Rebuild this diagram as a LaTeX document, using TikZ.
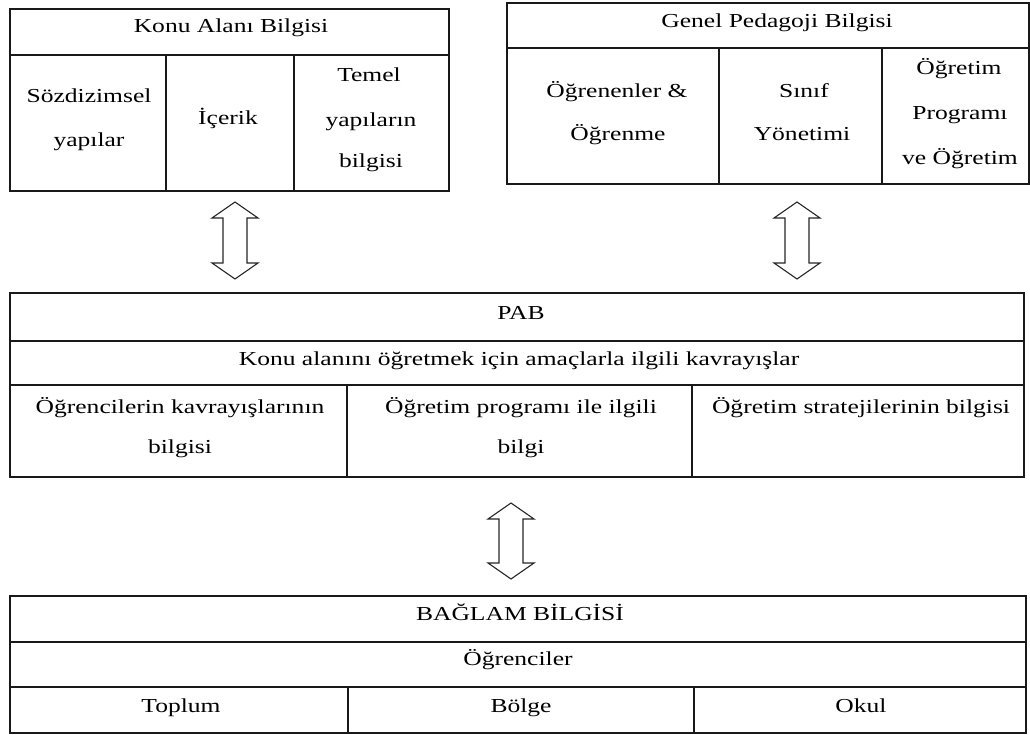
\documentclass[tikz,border=0pt]{standalone}
\usepackage{fontspec}
\setmainfont{Liberation Serif}
\usetikzlibrary{calc}

\tikzset{
  cellbox/.style={draw=black!90, line width=1.6pt, inner sep=0pt, outer sep=0pt, anchor=north west},
  txt/.style={anchor=base, inner sep=0pt, xscale=1.29, transform shape,
    font=\fontsize{19.8}{24}\selectfont, text=black},
  twoway/.style={draw=black!85, line width=1.1pt, fill=white, line join=miter},
}

% a table cell: name, left, top, right, bottom (pixel units, y downward)
\newcommand\cellat[5]{\node[cellbox, minimum width={#4-#2}, minimum height={#5-#3}] (#1) at (#2,#3) {};}

% hollow two-headed block arrow: name, centre x, top y, bottom y
\newcommand\twowayarrow[4]{%
  \coordinate (#1-top) at (#2,#3);
  \coordinate (#1-bot) at (#2,#4);
  \draw[twoway] (#1-top) -- ++(23,16) -- ++(-11,0) -- ($(#1-bot)+(12,-16)$)
    -- ++(11,0) -- (#1-bot) -- ++(-23,-16) -- ++(11,0) -- ($(#1-top)+(-12,16)$)
    -- ++(-11,0) -- cycle;}

\begin{document}
\begin{tikzpicture}[x=1pt, y=-1pt]
\useasboundingbox (0,0) rectangle (1030,735);

% Konu Alanı Bilgisi
\cellat{kab}{10}{9}{449}{55}
\cellat{kab1}{10}{55}{166}{191}
\cellat{kab2}{166}{55}{294}{191}
\cellat{kab3}{294}{55}{449}{191}
\node[txt] (t-kab) at (231,33) {Konu Alanı Bilgisi};
\node[txt] (t-kab1a) at (89,103) {Sözdizimsel};
\node[txt] (t-kab1b) at (89,147) {yapılar};
\node[txt] (t-kab2) at (228,125) {İçerik};
\node[txt] (t-kab3a) at (369,82) {Temel};
\node[txt] (t-kab3b) at (371,127) {yapıların};
\node[txt] (t-kab3c) at (371,168) {bilgisi};

% Genel Pedagoji Bilgisi
\cellat{gpb}{507}{3}{1029}{48}
\cellat{gpb1}{507}{48}{719}{184}
\cellat{gpb2}{719}{48}{882}{184}
\cellat{gpb3}{882}{48}{1029}{184}
\node[txt] (t-gpb) at (777,28) {Genel Pedagoji Bilgisi};
\node[txt] (t-gpb1a) at (617,98) {Öğrenenler \&};
\node[txt] (t-gpb1b) at (618,141) {Öğrenme};
\node[txt] (t-gpb2a) at (804,98) {Sınıf};
\node[txt] (t-gpb2b) at (802,141) {Yönetimi};
\node[txt] (t-gpb3a) at (959,75) {Öğretim};
\node[txt] (t-gpb3b) at (960,120) {Programı};
\node[txt] (t-gpb3c) at (960,165) {ve Öğretim};

% PAB
\cellat{pab}{10}{293}{1024}{341}
\cellat{pabgoal}{10}{341}{1024}{385}
\cellat{pab1}{10}{385}{347}{477}
\cellat{pab2}{347}{385}{692}{477}
\cellat{pab3}{692}{385}{1024}{477}
\node[txt] (t-pab) at (521,319) {PAB};
\node[txt] (t-pabgoal) at (519,365) {Konu alanını öğretmek için amaçlarla ilgili kavrayışlar};
\node[txt] (t-pab1a) at (180,413) {Öğrencilerin kavrayışlarının};
\node[txt] (t-pab1b) at (180,453) {bilgisi};
\node[txt] (t-pab2a) at (521,413) {Öğretim programı ile ilgili};
\node[txt] (t-pab2b) at (521,453) {bilgi};
\node[txt] (t-pab3) at (861,413) {Öğretim stratejilerinin bilgisi};

% Bağlam bilgisi
\cellat{bag}{10}{596}{1026}{642}
\cellat{bagstu}{10}{642}{1026}{687}
\cellat{bag1}{10}{687}{348}{733}
\cellat{bag2}{348}{687}{694}{733}
\cellat{bag3}{694}{687}{1026}{733}
\node[txt] (t-bag) at (520,620) {BAĞLAM BİLGİSİ};
\node[txt] (t-bagstu) at (518,665) {Öğrenciler};
\node[txt] (t-bag1) at (181,712) {Toplum};
\node[txt] (t-bag2) at (521,712) {Bölge};
\node[txt] (t-bag3) at (861,712) {Okul};

% two-way arrows between the blocks
\twowayarrow{a1}{235}{202}{279}
\twowayarrow{a2}{797}{202}{279}
\twowayarrow{a3}{511}{503}{579}
\end{tikzpicture}
\end{document}
